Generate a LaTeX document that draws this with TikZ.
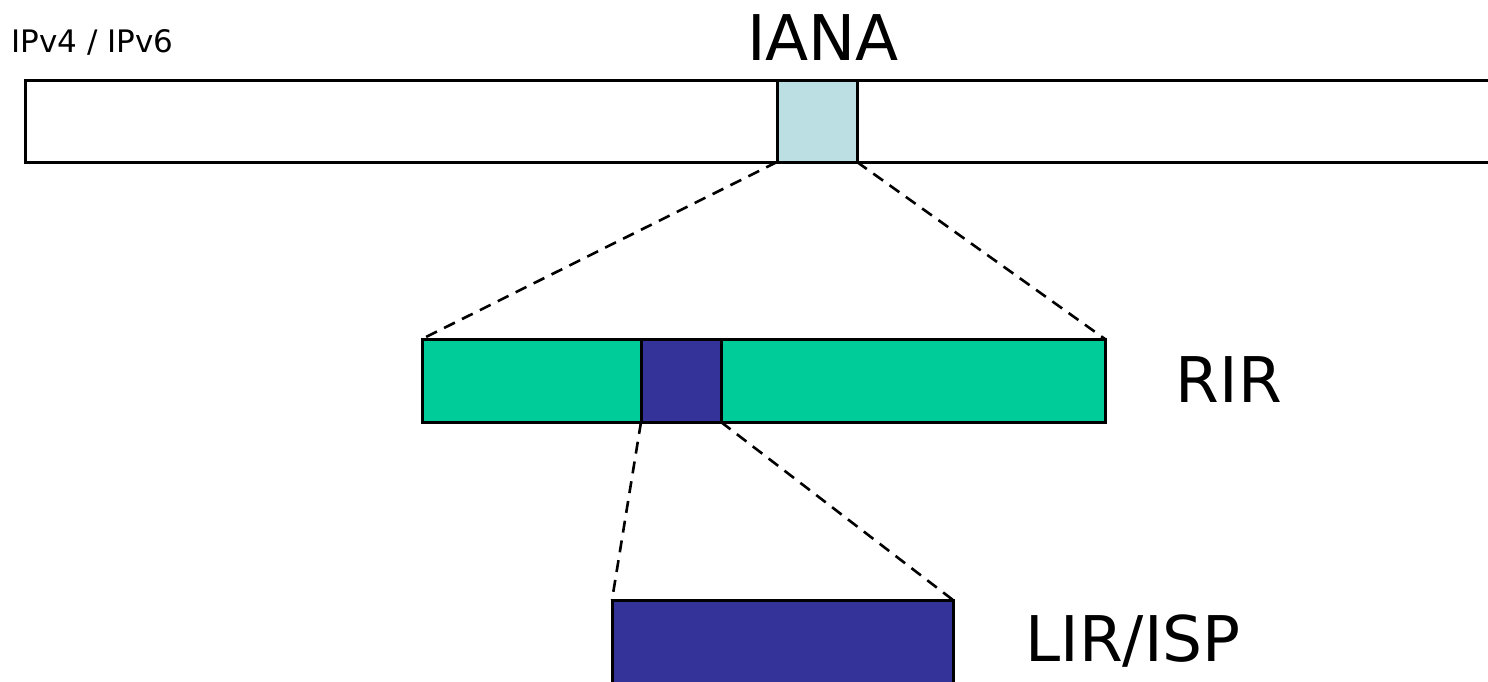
\documentclass[tikz,border=0pt]{standalone}
\usepackage{fontspec}
\setmainfont{DejaVu Sans}
\definecolor{ianablue}{HTML}{BBDFE2}
\definecolor{rirgreen}{HTML}{00CC99}
\definecolor{lirblue}{HTML}{333399}
\tikzset{
  bar/.style={draw=black, line width=1.5pt, rectangle, inner sep=0pt, outer sep=0pt},
  zoomline/.style={draw=black, line width=1.3pt, dash pattern=on 6pt off 4pt},
  bigtext/.style={font=\fontsize{31.5}{36}\selectfont, inner sep=0pt, anchor=base},
  smalltext/.style={font=\fontsize{15.5}{18}\selectfont, inner sep=0pt, anchor=base west}
}
\begin{document}
\begin{tikzpicture}[x=0.5pt, y=-0.5pt]
\useasboundingbox (0,0) rectangle (1488,681);
\clip (0,0) rectangle (1488,681);
% top bar
\node[bar, fill=white, minimum width=733.5pt, minimum height=41pt] (top) at (758.5,121) {};
\node[bar, fill=ianablue, minimum width=40pt, minimum height=41pt] (iana) at (817,121) {};
% RIR bar
\node[bar, fill=rirgreen, minimum width=341.5pt, minimum height=41.5pt] (rir) at (763.5,380.5) {};
\node[bar, fill=lirblue, minimum width=40pt, minimum height=41.5pt] (sub) at (681,380.5) {};
% LIR bar
\node[bar, fill=lirblue, minimum width=170.5pt, minimum height=42pt] (lir) at (782.5,642) {};
% zoom lines
\draw[zoomline] (iana.south west) -- (rir.north west);
\draw[zoomline] (iana.south east) -- (rir.north east);
\draw[zoomline] (sub.south west) -- (lir.north west);
\draw[zoomline] (sub.south east) -- (lir.north east);
% labels
\node[smalltext] (ipv) at (11,52) {IPv4 / IPv6};
\node[bigtext] (ianalbl) at (823,60) {IANA};
\node[bigtext] (rirlbl) at (1229,402) {RIR};
\node[bigtext] (lirlbl) at (1133,661) {LIR/ISP};
\end{tikzpicture}
\end{document}
